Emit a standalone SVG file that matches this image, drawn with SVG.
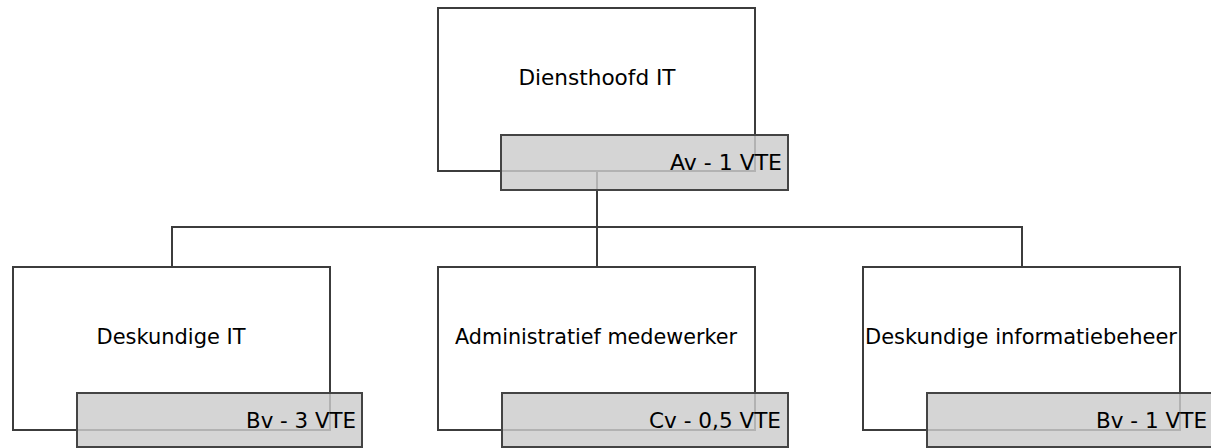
<svg xmlns="http://www.w3.org/2000/svg" width="1211" height="448" viewBox="0 0 1211 448">
<style>
.box{fill:#ffffff;stroke:#3c3c3c;stroke-width:2}
.tag{fill:#cccccc;fill-opacity:0.82;stroke:#444444;stroke-width:2}
.conn{fill:none;stroke:#3c3c3c;stroke-width:2}
text{font-family:"DejaVu Sans","Liberation Sans",sans-serif;font-size:20.5px;fill:#000}
.c{text-anchor:middle}
.e{text-anchor:end}
</style>
<rect width="1211" height="448" fill="#ffffff"/>
<g id="connectors">
<path class="conn" d="M597 171 V267"/>
<path class="conn" d="M172 267 V227 H1022 V267"/>
</g>
<g id="node-diensthoofd">
<rect class="box" x="438" y="8" width="317" height="163"/>
<text class="c" x="597" y="85" textLength="157" lengthAdjust="spacingAndGlyphs">Diensthoofd IT</text>
<rect class="tag" x="501" y="135" width="287" height="55"/>
<text class="e" x="782" y="170" textLength="112" lengthAdjust="spacingAndGlyphs">Av - 1 VTE</text>
</g>
<g id="node-deskundige-it">
<rect class="box" x="13" y="267" width="317" height="163"/>
<text class="c" x="171" y="344" textLength="149" lengthAdjust="spacingAndGlyphs">Deskundige IT</text>
<rect class="tag" x="77" y="393" width="285" height="54"/>
<text class="e" x="356" y="428" textLength="110" lengthAdjust="spacingAndGlyphs">Bv - 3 VTE</text>
</g>
<g id="node-administratief">
<rect class="box" x="438" y="267" width="317" height="163"/>
<text class="c" x="596" y="344" textLength="282" lengthAdjust="spacingAndGlyphs">Administratief medewerker</text>
<rect class="tag" x="502" y="393" width="286" height="54"/>
<text class="e" x="781" y="428" textLength="132" lengthAdjust="spacingAndGlyphs">Cv - 0,5 VTE</text>
</g>
<g id="node-informatiebeheer">
<rect class="box" x="863" y="267" width="317" height="163"/>
<text class="c" x="1021" y="344" textLength="312" lengthAdjust="spacingAndGlyphs">Deskundige informatiebeheer</text>
<rect class="tag" x="927" y="393" width="286" height="54"/>
<text class="e" x="1207" y="428" textLength="111" lengthAdjust="spacingAndGlyphs">Bv - 1 VTE</text>
</g>
</svg>
